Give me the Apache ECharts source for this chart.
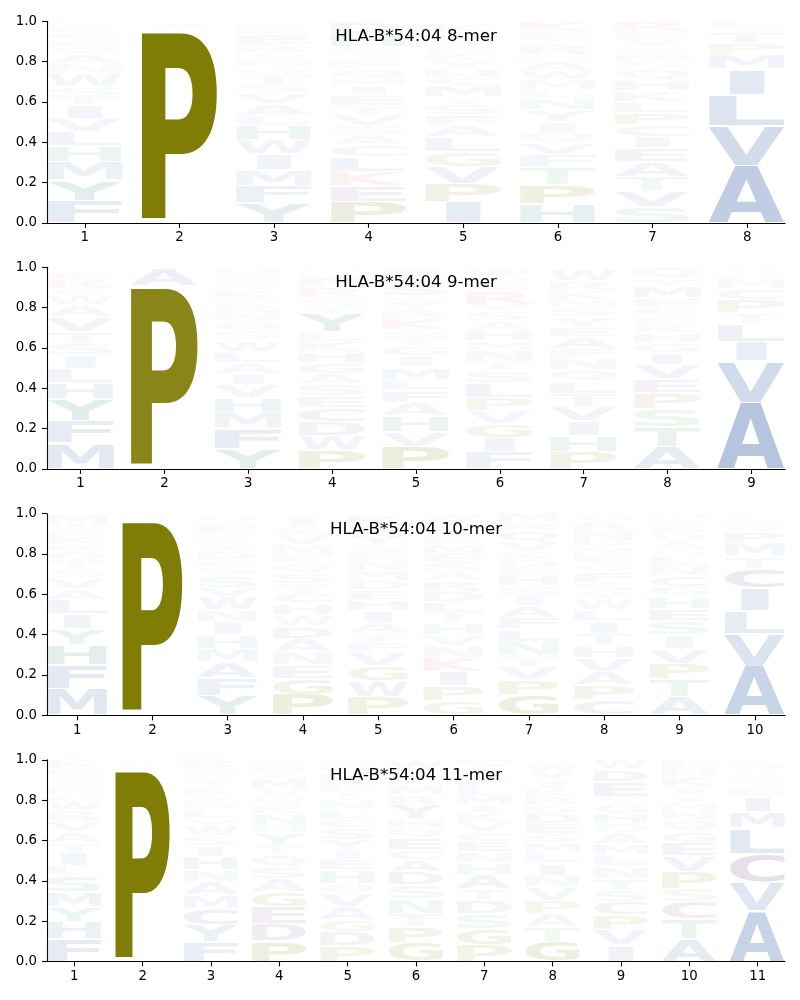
<!DOCTYPE html>
<html>
<head>
<meta charset="utf-8">
<style>html,body{margin:0;padding:0;background:#fff}#c{width:800px;height:1000px}</style>
<script src="https://cdn.jsdelivr.net/npm/echarts@6/dist/echarts.min.js"></script>
</head>
<body>
<div id="c"></div>
<script>
// Each position: bottom-to-top, letter then stack height. "_" is an empty part of the stack.
const logo8mer = [
 ["F",.112,"Y",.10,"M",.09,"H",.078,"L",.07,"V",.066,"I",.068,"T",.043,"S",.046,"W",.066,"N",.05,"A",.045,"Q",.041,"E",.033,"C",.036,"R",.03,"K",.025],
 ["_",.022,"P",.924,"_",.018,"A",.032],
 ["Y",.098,"F",.088,"M",.078,"I",.078,"W",.071,"H",.074,"L",.045,"A",.058,"V",.053,"S",.042,"T",.05,"Q",.033,"N",.041,"S",.033,"R",.041,"E",.05,"K",.033,"D",.025],
 ["P",.106,"E",.078,"K",.07,"L",.074,"C",.058,"A",.05,"S",.045,"V",.058,"T",.04,"E",.05,"I",.045,"M",.04,"Q",.05,"F",.04,"T",.035,"S",.033,"H",.066,"D",.058],
 ["I",.105,"P",.09,"V",.083,"G",.074,"L",.074,"A",.058,"F",.05,"S",.054,"T",.036,"M",.058,"C",.04,"H",.04,"Y",.04,"K",.04,"R",.034,"T",.033,"E",.033,"K",.041],
 ["H",.094,"P",.094,"T",.083,"F",.066,"V",.058,"Q",.053,"I",.055,"Y",.058,"N",.058,"L",.04,"M",.05,"W",.045,"A",.045,"S",.033,"R",.05,"S",.025,"E",.041,"K",.05],
 ["S",.08,"V",.08,"T",.07,"A",.074,"E",.066,"I",.058,"C",.058,"P",.06,"L",.055,"K",.055,"H",.053,"Q",.053,"S",.038,"M",.04,"N",.034,"Y",.033,"F",.041,"R",.05],
 ["A",.283,"V",.20,"L",.152,"I",.127,"M",.07,"P",.058,"T",.058,"S",.018,"E",.033]
];
const logo9mer = [
 ["M",.127,"F",.112,"Y",.109,"H",.08,"L",.07,"I",.066,"S",.058,"T",.058,"V",.074,"A",.058,"W",.045,"Q",.038,"R",.05,"E",.033,"K",.022],
 ["_",.021,"P",.876,"_",.012,"A",.085],
 ["Y",.10,"F",.102,"M",.078,"H",.071,"V",.066,"I",.055,"A",.056,"L",.055,"W",.055,"S",.045,"Q",.05,"N",.04,"R",.04,"C",.033,"K",.04,"S",.033,"E",.025,"T",.025,"D",.03],
 ["P",.094,"W",.07,"D",.07,"C",.07,"E",.058,"S",.06,"A",.05,"G",.053,"H",.055,"K",.05,"L",.05,"Y",.09,"T",.04,"Q",.04,"R",.05,"F",.05,"N",.025,"M",.022],
 ["P",.11,"V",.074,"H",.078,"A",.066,"F",.063,"L",.053,"M",.06,"I",.056,"G",.05,"T",.046,"N",.033,"K",.058,"R",.04,"Y",.04,"Q",.033,"S",.058,"E",.04,"R",.04],
 ["F",.083,"I",.07,"G",.07,"V",.066,"P",.066,"L",.07,"S",.06,"T",.045,"N",.06,"M",.043,"H",.053,"A",.046,"S",.045,"Y",.04,"R",.066,"E",.04,"Q",.033,"W",.038],
 ["P",.086,"H",.078,"I",.074,"V",.07,"T",.066,"L",.063,"Q",.053,"N",.058,"F",.05,"A",.058,"E",.046,"Y",.053,"S",.046,"M",.04,"K",.045,"R",.046,"W",.06],
 ["A",.11,"T",.10,"S",.09,"P",.078,"E",.068,"V",.07,"I",.06,"G",.05,"H",.048,"K",.043,"L",.04,"C",.043,"F",.048,"M",.06,"Y",.036,"Q",.055],
 ["A",.33,"V",.205,"I",.096,"L",.088,"T",.053,"P",.066,"C",.053,"M",.05,"F",.03,"S",.03]
];
const logo10mer = [
 ["M",.129,"F",.119,"H",.10,"Y",.08,"I",.073,"L",.071,"A",.054,"V",.054,"S",.041,"T",.045,"Q",.046,"R",.033,"K",.041,"E",.025,"W",.041,"M",.048],
 ["_",.021,"P",.931,"_",.008,"S",.03],
 ["Y",.096,"F",.089,"A",.08,"M",.066,"H",.066,"I",.066,"N",.058,"W",.066,"V",.045,"S",.063,"S",.04,"E",.034,"D",.04,"T",.033,"R",.03,"K",.028,"E",.041,"K",.025,"H",.03],
 ["P",.103,"G",.08,"E",.066,"N",.066,"A",.066,"D",.063,"W",.056,"H",.055,"C",.05,"T",.045,"S",.055,"Q",.05,"F",.041,"M",.05,"V",.05,"K",.036,"I",.05,"Y",.02],
 ["P",.091,"W",.078,"G",.076,"V",.066,"F",.05,"T",.046,"A",.053,"I",.058,"H",.055,"E",.048,"D",.046,"M",.05,"N",.05,"L",.041,"S",.036,"Y",.045,"R",.05,"K",.056],
 ["G",.071,"P",.075,"I",.07,"K",.07,"N",.06,"V",.053,"H",.058,"T",.05,"L",.056,"D",.05,"R",.053,"A",.043,"S",.045,"E",.045,"M",.046,"F",.041,"Y",.041,"Q",.036,"W",.036],
 ["G",.10,"P",.075,"V",.066,"T",.055,"N",.07,"L",.061,"F",.058,"A",.058,"I",.05,"S",.05,"H",.05,"E",.038,"D",.04,"K",.038,"V",.05,"Q",.058,"R",.041,"M",.048],
 ["C",.075,"P",.075,"A",.068,"V",.069,"H",.061,"T",.058,"I",.061,"L",.055,"W",.05,"Y",.04,"S",.046,"F",.053,"Q",.041,"E",.041,"M",.041,"D",.033,"N",.05,"R",.041,"G",.04],
 ["A",.091,"T",.088,"P",.078,"V",.074,"I",.066,"S",.07,"E",.063,"H",.063,"G",.045,"C",.053,"N",.051,"L",.045,"Q",.033,"A",.037,"V",.037,"F",.041,"R",.033,"M",.031],
 ["A",.245,"V",.16,"L",.113,"I",.114,"C",.096,"T",.061,"M",.066,"P",.055,"S",.033,"E",.025,"F",.025]
];
const logo11mer = [
 ["F",.113,"H",.083,"Y",.075,"M",.075,"S",.083,"L",.046,"I",.066,"T",.045,"A",.055,"V",.055,"R",.05,"W",.046,"C",.036,"N",.038,"Q",.033,"S",.028,"E",.033,"K",.04],
 ["_",.019,"P",.93,"_",.016,"A",.028],
 ["F",.096,"Y",.083,"C",.083,"M",.066,"A",.066,"N",.058,"H",.066,"I",.055,"S",.05,"W",.05,"V",.036,"L",.045,"D",.038,"S",.033,"K",.041,"T",.041,"Q",.025,"E",.028,"R",.04],
 ["P",.10,"D",.086,"E",.083,"G",.075,"A",.066,"S",.058,"Q",.061,"T",.05,"Y",.06,"H",.04,"N",.055,"K",.041,"W",.041,"V",.041,"M",.05,"I",.033,"E",.033,"R",.026],
 ["P",.076,"D",.07,"G",.058,"A",.066,"V",.066,"Q",.05,"H",.066,"E",.05,"I",.05,"Y",.05,"S",.058,"C",.041,"L",.05,"N",.045,"T",.038,"F",.041,"K",.05,"W",.04,"M",.036],
 ["G",.093,"P",.078,"T",.066,"N",.075,"S",.066,"D",.066,"A",.058,"C",.05,"E",.061,"Q",.05,"H",.043,"Y",.073,"R",.046,"M",.046,"L",.036,"S",.04,"W",.05],
 ["P",.083,"G",.08,"S",.075,"D",.066,"T",.055,"A",.07,"H",.058,"N",.055,"E",.053,"C",.046,"V",.05,"K",.045,"I",.041,"M",.046,"L",.045,"F",.05,"R",.041,"Q",.043],
 ["G",.10,"T",.071,"A",.066,"P",.066,"V",.066,"N",.058,"I",.063,"L",.05,"M",.048,"S",.046,"E",.05,"D",.05,"S",.041,"R",.04,"K",.043,"I",.041,"Y",.04,"W",.043,"Y",.018],
 ["I",.08,"V",.078,"P",.071,"C",.066,"S",.058,"T",.058,"N",.063,"L",.056,"M",.051,"A",.056,"Q",.046,"H",.05,"G",.045,"Y",.038,"E",.074,"D",.063,"W",.046],
 ["A",.113,"T",.096,"C",.086,"S",.066,"P",.083,"V",.078,"E",.068,"G",.056,"Q",.055,"N",.045,"M",.043,"I",.036,"V",.041,"K",.05,"H",.041,"F",.043],
 ["A",.25,"V",.144,"C",.14,"L",.127,"M",.08,"I",.075,"E",.041,"T",.036,"P",.033,"S",.03,"G",.033]
];
const logos = [logo8mer, logo9mer, logo10mer, logo11mer];
const titles = ["HLA-B*54:04 8-mer","HLA-B*54:04 9-mer","HLA-B*54:04 10-mer","HLA-B*54:04 11-mer"];
const yTicks = [0, 0.2, 0.4, 0.6, 0.8, 1];

const palette = {
  blue:"#4c72b0", olive:"#7f7d06", teal:"#2a7a80", green:"#55a868", purple:"#7a4a8a", red:"#d84a4a"
};
const groupOf = {A:"blue",V:"blue",L:"blue",M:"blue",F:"blue",I:"blue",W:"blue",
  P:"olive",G:"olive",H:"teal",Y:"teal",S:"green",T:"green",N:"green",Q:"green",
  C:"purple",D:"purple",E:"purple",K:"red",R:"red"};

const FONT = "bold 100px 'DejaVu Sans'";
const mcv = document.createElement('canvas'); mcv.width = 300; mcv.height = 300;
const mctx = mcv.getContext('2d', {willReadFrequently:true});
const inkCache = {};
// Ink box of a glyph relative to its left/middle anchor, scanned from real pixels.
function ink(ch){
  if(!inkCache[ch]){
    mctx.clearRect(0,0,300,300);
    mctx.font = FONT; mctx.textAlign = 'left'; mctx.textBaseline = 'middle'; mctx.fillStyle='#000';
    mctx.fillText(ch,100,150);
    const d = mctx.getImageData(0,0,300,300).data;
    let x0=300,x1=0,y0=300,y1=0;
    for(let y=0;y<300;y++) for(let x=0;x<300;x++){
      if(d[(y*300+x)*4+3]>127){ if(x<x0)x0=x; if(x+1>x1)x1=x+1; if(y<y0)y0=y; if(y+1>y1)y1=y+1; }
    }
    const w=x1-x0, ht=y1-y0;
    // The scan under-reads the unhinted outline that is drawn when scaled.
    inkCache[ch] = {l:100-x0, r:x1-100+w*0.012, a:150-y0+ht*0.016, d:y1-150};
  }
  return inkCache[ch];
}
function alphaFor(h){
  if(h > 0.5) return Math.min(1, Math.pow(h/0.92, 1.5));
  return h*1.25*Math.min(1, Math.sqrt(h/0.1));
}

const gridTops = [21.3, 267.3, 513.7, 759.8];
const GH = 201.6, GL = 47, GW = 738;
const grid=[], xAxis=[], yAxis=[], series=[], title=[];
const axisLine = {show:true, lineStyle:{color:'#000', width:1.1}};
const axisTick = {show:true, length:5, lineStyle:{color:'#000', width:1.1}};
const labelStyle = {color:'#000', fontFamily:"'DejaVu Sans'", fontSize:13.3};

logos.forEach((logo, i)=>{
  const L = logo.length;
  const ticks = logo.map((_,k)=>k+1);
  grid.push({left:GL, top:gridTops[i], width:GW, height:GH, containLabel:false});
  xAxis.push({type:'value', gridIndex:i, min:0.6, max:L+0.4, splitLine:{show:false}, axisLine,
    axisTick:{...axisTick, customValues:ticks},
    axisLabel:{...labelStyle, margin:8.5, customValues:ticks, formatter:v=>String(v)}});
  yAxis.push({type:'value', gridIndex:i, min:0, max:1, interval:0.2, splitLine:{show:false}, axisLine, axisTick,
    axisLabel:{...labelStyle, margin:10, formatter:v=>v.toFixed(1), customValues:yTicks}});
  title.push({text:titles[i], left:411, top:gridTops[i]+2, textAlign:'center',
    textStyle:{fontFamily:"'DejaVu Sans'", fontSize:16.67, fontWeight:'normal', color:'#000'}});
  const data=[];
  logo.forEach((stack,k)=>{
    let base=0;
    for(let j=0;j<stack.length;j+=2){
      const ch=stack[j], h=stack[j+1];
      if(ch!=="_") data.push([k+1, base, base+h, ch]);
      base+=h;
    }
  });
  series.push({type:'custom', xAxisIndex:i, yAxisIndex:i, data, silent:true, clip:false,
    encode:{x:0,y:[1,2]},
    renderItem:(params,api)=>{
      const pos=api.value(0), lo=api.value(1), hi=api.value(2), ch=api.value(3);
      const h=hi-lo, inset=0.004;
      const half = ch==="I" ? 0.185 : 0.4;
      const x0=api.coord([pos-half,lo])[0], x1=api.coord([pos+half,lo])[0];
      const yb=api.coord([pos,lo+inset])[1], yt=api.coord([pos,hi-inset])[1];
      const m=ink(ch);
      const sx=(x1-x0)/(m.l+m.r), sy=(yb-yt)/(m.a+m.d);
      return {type:'text', x:x0+sx*m.l, y:yt+sy*m.a, scaleX:sx, scaleY:sy, silent:true,
        style:{text:ch, font:FONT, fill:palette[groupOf[ch]], opacity:alphaFor(h),
          x:0, y:0, align:'left', verticalAlign:'middle', textAlign:'left', textBaseline:'middle'}};
    }});
});

const chart = echarts.init(document.getElementById('c'), null, {width:800, height:1000, renderer:'canvas'});
chart.setOption({animation:false, backgroundColor:'#fff', title, grid, xAxis, yAxis, series});
</script>
</body>
</html>
